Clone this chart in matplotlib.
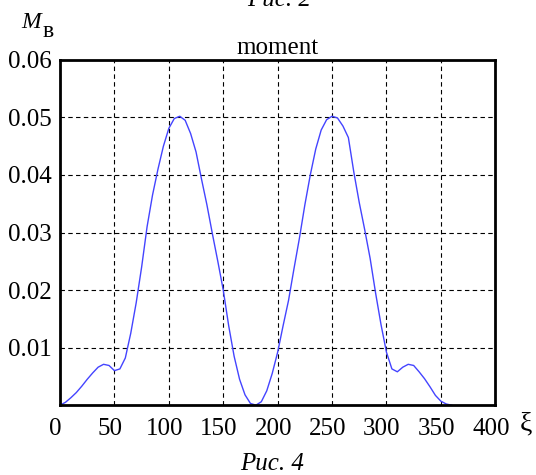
import numpy as np
import matplotlib.pyplot as plt
from matplotlib.transforms import ScaledTranslation

plt.rcParams['font.family'] = ['Liberation Serif', 'DejaVu Serif']

# данные
xi = [0, 5, 10, 15, 20, 25, 30, 35, 40, 45, 50, 55, 60, 65, 70, 75, 80, 85, 90,
      95, 100, 105, 110, 115, 120, 125, 130, 135, 140, 145, 150, 155, 160, 165,
      170, 175, 180, 185, 190, 195, 200, 205, 210, 215, 220, 225, 230, 235, 240,
      245, 250, 255, 260, 265, 270, 275, 280, 285, 290, 295, 300, 305, 310, 315,
      320, 325, 330, 335, 340, 345, 350, 355, 360]
moment = [0.0000, 0.0005, 0.0013, 0.0022, 0.0033, 0.0045, 0.0056, 0.0066, 0.0071,
          0.0069, 0.0060, 0.0063, 0.0082, 0.0125, 0.0178, 0.0240, 0.0310, 0.0365,
          0.0410, 0.0450, 0.0481, 0.0498, 0.0502, 0.0495, 0.0472, 0.0440, 0.0393,
          0.0348, 0.0298, 0.0250, 0.0200, 0.0138, 0.0085, 0.0045, 0.0018, 0.0003,
          0.0000, 0.0006, 0.0025, 0.0055, 0.0092, 0.0138, 0.0182, 0.0237, 0.0290,
          0.0348, 0.0400, 0.0445, 0.0478, 0.0496, 0.0502, 0.0499, 0.0485, 0.0465,
          0.0405, 0.0352, 0.0305, 0.0255, 0.0195, 0.0140, 0.0092, 0.0063, 0.0058,
          0.0066, 0.0071, 0.0069, 0.0058, 0.0046, 0.0032, 0.0017, 0.0007, 0.0002,
          0.0000]
xticks = [0, 50, 100, 150, 200, 250, 300, 350, 400]
yticks = [0.01, 0.02, 0.03, 0.04, 0.05, 0.06]
ylabels = ['0.01', '0.02', '0.03', '0.04', '0.05', '0.06']

fig = plt.figure(figsize=(5.36, 4.75), dpi=100)
ax = fig.add_axes([0.112, 0.147, 0.812, 0.727])

ax.plot(xi, moment, color='#4444ff', lw=1.0)

ax.set_xlim(0, 400)
ax.set_ylim(0, 0.06)
ax.set_xticks(xticks)
ax.set_xticklabels([str(t) for t in xticks], fontsize=18)
ax.set_yticks(yticks)
ax.set_yticklabels(ylabels, fontsize=18)
ax.tick_params(length=0)
ax.tick_params(axis='x', pad=9)
ax.tick_params(axis='y', pad=6)
# подписи по x чуть сдвинуты влево
for lab in ax.get_xticklabels():
    lab.set_transform(lab.get_transform() + ScaledTranslation(-0.045, 0, fig.dpi_scale_trans))
ax.grid(True, color='black', linestyle=(0, (4, 3)), lw=0.8)
for s in ax.spines.values():
    s.set_linewidth(2)

ax.set_title('moment', fontsize=18, pad=4)

# подписи осей
fig.text(0.040, 1 - 28 / 475, 'M', fontsize=17, style='italic', va='baseline')
fig.text(0.079, 1 - 37 / 475, 'в', fontsize=17, va='baseline')
fig.text(0.970, 1 - 430 / 475, 'ξ', fontsize=20, va='baseline')
fig.text(0.507, 1 - 470 / 475, 'Рис. 4', fontsize=18, style='italic', ha='center', va='baseline')
fig.text(0.52, 1 - 6 / 475, 'Рис. 2', fontsize=18, style='italic', ha='center', va='baseline')

plt.savefig('out.png', dpi=100)
